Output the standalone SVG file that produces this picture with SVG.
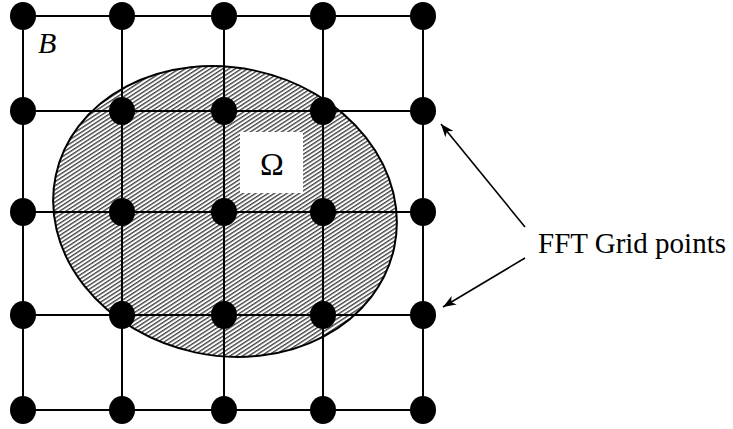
<svg xmlns="http://www.w3.org/2000/svg" width="733" height="429" viewBox="0 0 733 429">
  <style>
    .grid { stroke: #000; stroke-width: 2; fill: none; }
    .pt { fill: #000; }
    .outline { fill: none; stroke: #000; stroke-width: 2; }
    .lbl { font-family: "Liberation Serif", "Times New Roman", serif; fill: #000; }
    .ptr { stroke: #000; stroke-width: 1.6; fill: none; marker-end: url(#head); }
  </style>
  <defs>
    <pattern id="hatch" patternUnits="userSpaceOnUse" width="3.4" height="3.4" patternTransform="rotate(45)">
      <rect width="3.4" height="3.4" fill="#fff"/>
      <line x1="0.7" y1="0" x2="0.7" y2="3.4" stroke="#444" stroke-width="1.4"/>
    </pattern>
    <marker id="head" markerWidth="14" markerHeight="10" refX="13" refY="5" orient="auto" markerUnits="userSpaceOnUse">
      <path d="M0,0 L13,5 L0,10 L3.5,5 Z" fill="#000"/>
    </marker>
  </defs>

  <!-- domain Omega: tilted hatched ellipse -->
  <g id="omega-region">
    <ellipse cx="225" cy="211.5" rx="173" ry="144" transform="rotate(12 225 211.5)" fill="url(#hatch)"/>
  </g>

  <!-- grid lines of the box B -->
  <g id="connectors">
    <g class="grid">
      <line x1="23" y1="16" x2="423" y2="16"/>
      <line x1="23" y1="111" x2="423" y2="111"/>
      <line x1="23" y1="212" x2="423" y2="212"/>
      <line x1="23" y1="315" x2="423" y2="315"/>
      <line x1="23" y1="410" x2="423" y2="410"/>
      <line x1="23" y1="16" x2="23" y2="410"/>
      <line x1="122" y1="16" x2="122" y2="410"/>
      <line x1="224" y1="16" x2="224" y2="410"/>
      <line x1="323" y1="16" x2="323" y2="410"/>
      <line x1="423" y1="16" x2="423" y2="410"/>
    </g>
    <ellipse class="outline" cx="225" cy="211.5" rx="173" ry="144" transform="rotate(12 225 211.5)"/>
    <line class="ptr" x1="525" y1="227" x2="441" y2="124"/>
    <line class="ptr" x1="525" y1="258" x2="443" y2="307"/>
  </g>

  <!-- FFT grid points -->
  <g id="points">
    <g id="p-r1" class="pt">
      <ellipse cx="23" cy="16" rx="13" ry="14"/>
      <ellipse cx="122" cy="16" rx="13" ry="14"/>
      <ellipse cx="224" cy="16" rx="13" ry="14"/>
      <ellipse cx="323" cy="16" rx="13" ry="14"/>
      <ellipse cx="423" cy="16" rx="13" ry="14"/>
    </g>
    <g id="p-r2" class="pt">
      <ellipse cx="23" cy="111" rx="13" ry="14"/>
      <ellipse cx="122" cy="111" rx="13" ry="14"/>
      <ellipse cx="224" cy="111" rx="13" ry="14"/>
      <ellipse cx="323" cy="111" rx="13" ry="14"/>
      <ellipse cx="423" cy="111" rx="13" ry="14"/>
    </g>
    <g id="p-r3" class="pt">
      <ellipse cx="23" cy="212" rx="13" ry="14"/>
      <ellipse cx="122" cy="212" rx="13" ry="14"/>
      <ellipse cx="224" cy="212" rx="13" ry="14"/>
      <ellipse cx="323" cy="212" rx="13" ry="14"/>
      <ellipse cx="423" cy="212" rx="13" ry="14"/>
    </g>
    <g id="p-r4" class="pt">
      <ellipse cx="23" cy="315" rx="13" ry="14"/>
      <ellipse cx="122" cy="315" rx="13" ry="14"/>
      <ellipse cx="224" cy="315" rx="13" ry="14"/>
      <ellipse cx="323" cy="315" rx="13" ry="14"/>
      <ellipse cx="423" cy="315" rx="13" ry="14"/>
    </g>
    <g id="p-r5" class="pt">
      <ellipse cx="23" cy="410" rx="13" ry="14"/>
      <ellipse cx="122" cy="410" rx="13" ry="14"/>
      <ellipse cx="224" cy="410" rx="13" ry="14"/>
      <ellipse cx="323" cy="410" rx="13" ry="14"/>
      <ellipse cx="423" cy="410" rx="13" ry="14"/>
    </g>
  </g>

  <!-- labels -->
  <g id="label-b">
    <text class="lbl" x="38" y="53" font-size="30" font-style="italic">B</text>
  </g>
  <g id="label-omega">
    <rect x="240" y="132" width="63" height="61" fill="#fff"/>
    <text class="lbl" x="272" y="175" font-size="32" text-anchor="middle">Ω</text>
  </g>
  <g id="label-fft">
    <text class="lbl" x="538" y="253" font-size="29">FFT Grid points</text>
  </g>
</svg>
